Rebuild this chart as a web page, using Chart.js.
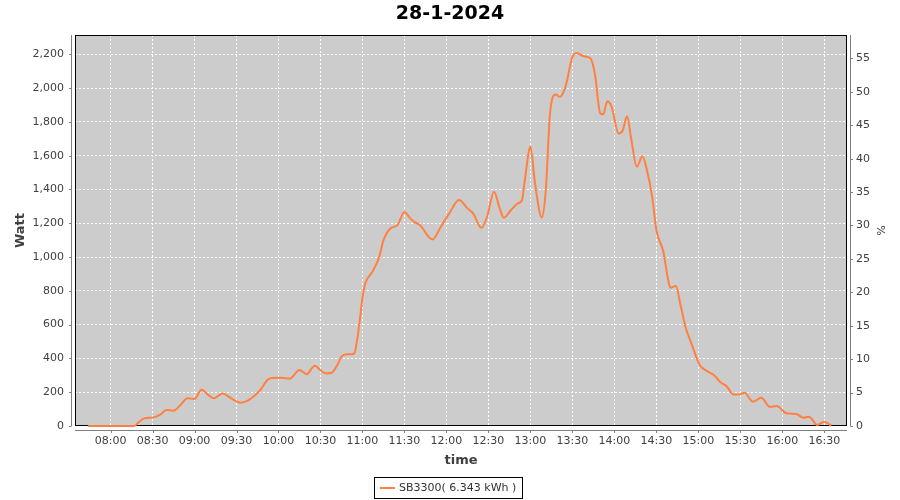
<!DOCTYPE html>
<html>
<head>
<meta charset="utf-8">
<script src="https://cdn.jsdelivr.net/npm/chart.js@4/dist/chart.umd.min.js"></script>
<style>
html,body{margin:0;padding:0;background:#ffffff;}
#wrap{width:900px;height:500px;}
</style>
</head>
<body>
<div id="wrap"><canvas id="c" width="900" height="500"></canvas></div>
<script>
// ---- data ----
const chartTitle = '28-1-2024';
const seriesName = 'SB3300( 6.343 kWh )';
const xAxisTitle = 'time';
const yAxisTitle = 'Watt';
const y2AxisTitle = '%';

const times = ['07:44','08:17','08:20','08:24','08:31','08:36','08:40','08:45','08:50','08:55',
  '09:00','09:05','09:10','09:14','09:20','09:26','09:33','09:38','09:42','09:47',
  '09:52','09:55','10:02','10:08','10:15','10:20','10:26','10:30','10:34','10:38',
  '10:42','10:45','10:49','10:54','10:56','10:58','11:00','11:02','11:07','11:12',
  '11:15','11:20','11:25','11:30','11:34','11:37','11:41','11:50','11:56','12:02',
  '12:09','12:15','12:19','12:25','12:29','12:34','12:38','12:41','12:46','12:51',
  '12:54','12:56','13:00','13:03','13:06','13:08','13:11','13:14','13:18','13:21',
  '13:25','13:30','13:33','13:38','13:43','13:46','13:50','13:52','13:55','13:58',
  '14:03','14:06','14:09','14:12','14:16','14:20','14:23','14:27','14:30','14:35',
  '14:38','14:40','14:44','14:47','14:51','14:55','15:01','15:07','15:11','15:16',
  '15:20','15:25','15:29','15:33','15:39','15:45','15:51','15:56','16:03','16:10',
  '16:15','16:19','16:25','16:30','16:35'];
const watts = [0,0,22,45,51,70,95,91,125,164,
  160,215,183,164,193,165,138,150,173,213,
  272,284,285,280,331,307,357,330,311,315,
  360,410,424,428,500,620,760,844,912,1001,
  1100,1169,1189,1267,1230,1208,1189,1104,1179,1258,
  1337,1288,1258,1173,1238,1386,1290,1232,1277,1317,
  1337,1455,1652,1455,1290,1232,1396,1849,1962,1948,
  2007,2184,2208,2188,2175,2086,1849,1845,1922,1890,
  1731,1750,1833,1700,1534,1597,1524,1356,1159,1031,
  883,818,828,726,580,489,361,321,302,258,
  237,187,187,197,144,167,114,118,75,71,
  49,55,6,25,2];

const xTickLabels = ['08:00','08:30','09:00','09:30','10:00','10:30','11:00','11:30','12:00',
  '12:30','13:00','13:30','14:00','14:30','15:00','15:30','16:00','16:30'];
const wattTicks = [0,200,400,600,800,1000,1200,1400,1600,1800,2000,2200];
const percentTicks = [0,5,10,15,20,25,30,35,40,45,50,55];
const xMinTime = '07:34.6';
const xMaxTime = '16:46.2';
const wattMax = 2314;
const percentMax = 58.5;

// ---- helpers ----
function toMin(s){ const p = s.split(':'); return parseInt(p[0],10)*60 + parseFloat(p[1]); }
function fmtTime(v){ const h = Math.floor(v/60), m = Math.round(v - h*60);
  return String(h).padStart(2,'0') + ':' + String(m).padStart(2,'0'); }

const LINE = '#FF8040';
const TXT = '#404040';
const AXIS = '#808080';
const FONT = '"DejaVu Sans", sans-serif';

const framePlugin = {
  id: 'frame',
  beforeDraw(chart){
    const ctx = chart.ctx, a = chart.chartArea;
    ctx.save();
    ctx.fillStyle = '#ffffff';
    ctx.fillRect(0,0,chart.width,chart.height);
    ctx.fillStyle = '#cccccc';
    ctx.fillRect(a.left, a.top, a.right - a.left, a.bottom - a.top);
    ctx.restore();
  },
  beforeDatasetsDraw(chart){
    const ctx = chart.ctx, a = chart.chartArea;
    ctx.save();
    // plot outline (under the series line)
    ctx.strokeStyle = '#000000';
    ctx.lineWidth = 1;
    ctx.strokeRect(a.left + 0.5, a.top + 0.5, a.right - a.left - 1, a.bottom - a.top - 1);
    ctx.restore();
  },
  afterDraw(chart){
    const ctx = chart.ctx, a = chart.chartArea;
    ctx.save();
    // axis lines (offset from plot) + tick marks
    ctx.strokeStyle = AXIS;
    ctx.lineWidth = 1;
    ctx.beginPath();
    const lx = a.left - 3.5;
    ctx.moveTo(lx, a.top); ctx.lineTo(lx, a.bottom);
    chart.scales.y.ticks.forEach(t => { const py = Math.round(chart.scales.y.getPixelForValue(t.value)) + 0.5;
      ctx.moveTo(lx - 2.5, py); ctx.lineTo(lx, py); });
    const rx = a.right + 3.5;
    ctx.moveTo(rx, a.top); ctx.lineTo(rx, a.bottom);
    chart.scales.y1.ticks.forEach(t => { const py = Math.round(chart.scales.y1.getPixelForValue(t.value)) + 0.5;
      ctx.moveTo(rx, py); ctx.lineTo(rx + 2.5, py); });
    const by = a.bottom + 4.5;
    ctx.moveTo(a.left, by); ctx.lineTo(a.right, by);
    chart.scales.x.ticks.forEach(t => { const px = Math.round(chart.scales.x.getPixelForValue(t.value)) + 0.5;
      ctx.moveTo(px, by); ctx.lineTo(px, by + 2.5); });
    ctx.stroke();
    // legend
    ctx.font = '11px ' + FONT;
    const tw = ctx.measureText(seriesName).width;
    const total = 6 + 15 + 4 + tw + 6;
    const L = Math.round(448 - total/2);
    ctx.fillStyle = '#ffffff';
    ctx.fillRect(L, 477, total, 22);
    ctx.strokeStyle = '#000000';
    ctx.strokeRect(L + 0.5, 477.5, Math.round(total), 21);
    ctx.strokeStyle = LINE;
    ctx.lineWidth = 2;
    ctx.beginPath(); ctx.moveTo(L + 6, 488); ctx.lineTo(L + 21, 488); ctx.stroke();
    ctx.fillStyle = '#333333';
    ctx.textBaseline = 'middle';
    ctx.textAlign = 'left';
    ctx.fillText(seriesName, L + 25, 488.5);
    ctx.restore();
  }
};

new Chart(document.getElementById('c'), {
  type: 'line',
  data: {
    datasets: [{
      label: seriesName,
      data: times.map((t,i) => ({x: toMin(t), y: watts[i]})),
      yAxisID: 'y',
      borderColor: LINE,
      backgroundColor: LINE,
      borderWidth: 2,
      pointRadius: 0,
      fill: false,
      clip: 2,
      cubicInterpolationMode: 'monotone'
    }]
  },
  options: {
    responsive: false,
    devicePixelRatio: 1,
    animation: false,
    layout: { padding: { left: 0, right: 0, top: 0, bottom: 28 } },
    plugins: {
      legend: { display: false },
      tooltip: { enabled: false },
      title: {
        display: true, text: chartTitle, color: '#000000',
        font: { family: FONT, size: 19, weight: 'bold' },
        padding: { top: 3, bottom: 9.2 }
      }
    },
    scales: {
      x: {
        type: 'linear', position: 'bottom',
        min: toMin(xMinTime), max: toMin(xMaxTime),
        afterBuildTicks: s => { s.ticks = xTickLabels.map(l => ({value: toMin(l)})); },
        afterFit: s => { s.height = 46; },
        ticks: { callback: v => fmtTime(v), color: TXT, font: { family: FONT, size: 11 },
          padding: 8.4, maxRotation: 0, minRotation: 0, autoSkip: false },
        grid: { color: '#ffffff', lineWidth: 1, drawTicks: false },
        border: { display: false, dash: [2,2] },
        title: { display: true, text: xAxisTitle, color: TXT,
          font: { family: FONT, size: 13, weight: 'bold' }, padding: { top: 0, bottom: 4 } }
      },
      y: {
        type: 'linear', position: 'left', min: 0, max: wattMax,
        afterBuildTicks: s => { s.ticks = wattTicks.map(v => ({value: v})); },
        afterFit: s => { s.width = 75; },
        ticks: { callback: v => v.toLocaleString('en-US'), color: TXT, font: { family: FONT, size: 11 }, padding: 11 },
        grid: { color: '#ffffff', lineWidth: 1, drawTicks: false },
        border: { display: false, dash: [2,2] },
        title: { display: true, text: yAxisTitle, color: TXT,
          font: { family: FONT, size: 13, weight: 'bold' }, padding: { top: 13.2, bottom: 0 } }
      },
      y1: {
        type: 'linear', position: 'right', min: 0, max: percentMax,
        afterBuildTicks: s => { s.ticks = percentTicks.map(v => ({value: v})); },
        afterFit: s => { s.width = 53; },
        ticks: { color: TXT, font: { family: FONT, size: 11 }, padding: 9 },
        grid: { drawOnChartArea: false, drawTicks: false },
        border: { display: false },
        title: { display: true, text: y2AxisTitle, color: TXT,
          font: { family: FONT, size: 11 }, padding: { top: 13.4, bottom: 0 } }
      }
    }
  },
  plugins: [framePlugin]
});
</script>
</body>
</html>
